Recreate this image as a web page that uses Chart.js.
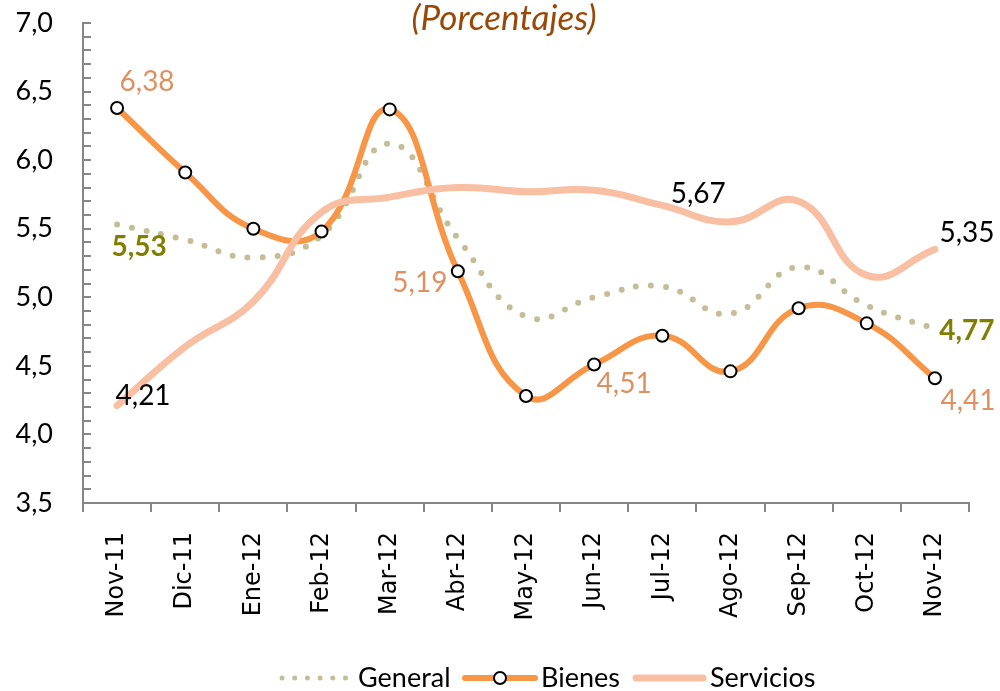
<!DOCTYPE html>
<html><head><meta charset="utf-8">
<script src="https://cdn.jsdelivr.net/npm/chart.js@4.4.1/dist/chart.umd.min.js"></script>
<style>html,body{margin:0;padding:0;background:#fff;} canvas{display:block;}</style>
</head><body>
<canvas id="c" width="1000" height="691"></canvas>
<script>
// ---- data ----
const categories = ['Nov-11','Dic-11','Ene-12','Feb-12','Mar-12','Abr-12','May-12','Jun-12','Jul-12','Ago-12','Sep-12','Oct-12','Nov-12'];
const general   = [5.53, 5.42, 5.29, 5.45, 6.12, 5.43, 4.86, 5.00, 5.08, 4.88, 5.22, 4.94, 4.77];
const bienes    = [6.38, 5.91, 5.50, 5.48, 6.37, 5.19, 4.28, 4.51, 4.72, 4.46, 4.92, 4.81, 4.41];
const servicios = [4.21, 4.64, 4.97, 5.62, 5.73, 5.80, 5.77, 5.78, 5.67, 5.55, 5.70, 5.16, 5.35];
const seriesNames = ['General', 'Bienes', 'Servicios'];
const yMin = 3.5, yMax = 7.0, yStep = 0.5, yMinorStep = 0.1;
const titleText = '(Porcentajes)';

// which points carry a value label (offsets are styling)
const labelledPoints = [
  {ds: 1, i: 0,  dx: 30, dy: -26, color: '#DE9160', bold: false},
  {ds: 0, i: 0,  dx: 22, dy: 22,  color: '#7F7F00', bold: true},
  {ds: 2, i: 0,  dx: 26, dy: -10, color: '#000000', bold: false},
  {ds: 1, i: 5,  dx: -38, dy: 12, color: '#DE9160', bold: false},
  {ds: 1, i: 7,  dx: 30, dy: 19,  color: '#DE9160', bold: false},
  {ds: 2, i: 8,  dx: 36, dy: -11, color: '#000000', bold: false},
  {ds: 2, i: 12, dx: 32, dy: -16, color: '#000000', bold: false},
  {ds: 0, i: 12, dx: 32, dy: 2,   color: '#7F7F00', bold: true},
  {ds: 1, i: 12, dx: 33, dy: 23,  color: '#DE9160', bold: false}
];

const fmt = (v, d) => v.toFixed(d).replace('.', ',');
const AXIS = '#868686';

const extras = {
  id: 'extras',
  afterDraw(chart) {
    const ctx = chart.ctx, ys = chart.scales.y, area = chart.chartArea;
    ctx.save();
    // y ticks pointing inside (major + minor)
    ctx.strokeStyle = AXIS; ctx.lineWidth = 2;
    const n = Math.round((yMax - yMin) / yMinorStep);
    for (let k = 0; k <= n; k++) {
      const y = Math.round(ys.getPixelForValue(yMin + k * yMinorStep));
      ctx.beginPath(); ctx.moveTo(area.left, y); ctx.lineTo(area.left + 8, y); ctx.stroke();
    }
    // value labels
    ctx.textAlign = 'center'; ctx.textBaseline = 'middle';
    for (const p of labelledPoints) {
      const pt = chart.getDatasetMeta(p.ds).data[p.i];
      const val = chart.data.datasets[p.ds].data[p.i];
      ctx.font = (p.bold ? 'bold ' : '') + '28px Lato';
      ctx.fillStyle = p.color;
      ctx.fillText(fmt(val, 2), pt.x + p.dx, pt.y + p.dy);
    }
    // title
    ctx.font = 'italic 35px Lato';
    ctx.fillStyle = '#984807';
    ctx.textBaseline = 'alphabetic';
    ctx.fillText(titleText, 504, 30);
    // legend
    const ly = 678;
    const dsets = chart.data.datasets;
    ctx.font = '27px Lato'; ctx.fillStyle = '#000'; ctx.textAlign = 'left'; ctx.textBaseline = 'middle';
    // General
    ctx.save();
    ctx.strokeStyle = dsets[0].borderColor; ctx.lineWidth = 5; ctx.lineCap = 'round';
    ctx.setLineDash([0, 12.7]);
    ctx.beginPath(); ctx.moveTo(282, ly); ctx.lineTo(350, ly); ctx.stroke();
    ctx.restore();
    ctx.fillText(seriesNames[0], 358, ly);
    // Bienes
    ctx.save();
    ctx.strokeStyle = dsets[1].borderColor; ctx.lineWidth = 6; ctx.lineCap = 'round';
    ctx.beginPath(); ctx.moveTo(465, ly); ctx.lineTo(535, ly); ctx.stroke();
    ctx.beginPath(); ctx.arc(500, ly, 6, 0, Math.PI * 2);
    ctx.fillStyle = '#fff'; ctx.fill(); ctx.lineWidth = 2; ctx.strokeStyle = '#000'; ctx.stroke();
    ctx.restore();
    ctx.fillText(seriesNames[1], 541, ly);
    // Servicios
    ctx.save();
    ctx.strokeStyle = dsets[2].borderColor; ctx.lineWidth = 7; ctx.lineCap = 'round';
    ctx.beginPath(); ctx.moveTo(636, ly); ctx.lineTo(703, ly); ctx.stroke();
    ctx.restore();
    ctx.fillText(seriesNames[2], 710, ly);
    ctx.restore();
  }
};

new Chart(document.getElementById('c'), {
  type: 'line',
  data: {
    labels: categories,
    datasets: [
      { label: seriesNames[0], data: general, borderColor: '#C4BD97', borderWidth: 6,
        borderDash: [0, 15], borderCapStyle: 'round', pointRadius: 0, tension: 0.45, order: 3 },
      { label: seriesNames[1], data: bienes, borderColor: '#F79646', borderWidth: 6,
        pointRadius: 6, pointBackgroundColor: '#fff', pointBorderColor: '#000', pointBorderWidth: 2,
        tension: 0.45, order: 2 },
      { label: seriesNames[2], data: servicios, borderColor: '#F8BFA2', borderWidth: 7,
        borderCapStyle: 'round', pointRadius: 0, tension: 0.45, order: 1 }
    ]
  },
  options: {
    responsive: false, animation: false, devicePixelRatio: 1,
    layout: { padding: { top: 23, right: 31, left: 0, bottom: 0 } },
    plugins: { legend: { display: false }, tooltip: { enabled: false }, title: { display: false } },
    scales: {
      x: {
        offset: true,
        grid: { offset: true, drawOnChartArea: false, drawTicks: true, tickLength: 9, color: AXIS, lineWidth: 2 },
        border: { display: true, color: AXIS, width: 2 },
        ticks: { minRotation: 90, maxRotation: 90, autoSkip: false, padding: 20,
                 color: '#000', font: { family: 'DejaVu Sans', size: 24 } },
        afterFit(s) { s.height = 188; s.paddingLeft = 0; s.paddingRight = 0; }
      },
      y: {
        min: yMin, max: yMax,
        grid: { drawOnChartArea: false, drawTicks: false },
        border: { display: true, color: AXIS, width: 2 },
        ticks: { stepSize: yStep, padding: 30, color: '#000', font: { family: 'Lato', size: 27 },
                 callback: v => fmt(v, 1) },
        afterFit(s) { s.width = 83; s.paddingTop = 0; s.paddingBottom = 0; }
      }
    }
  },
  plugins: [extras]
});
</script>
</body></html>
